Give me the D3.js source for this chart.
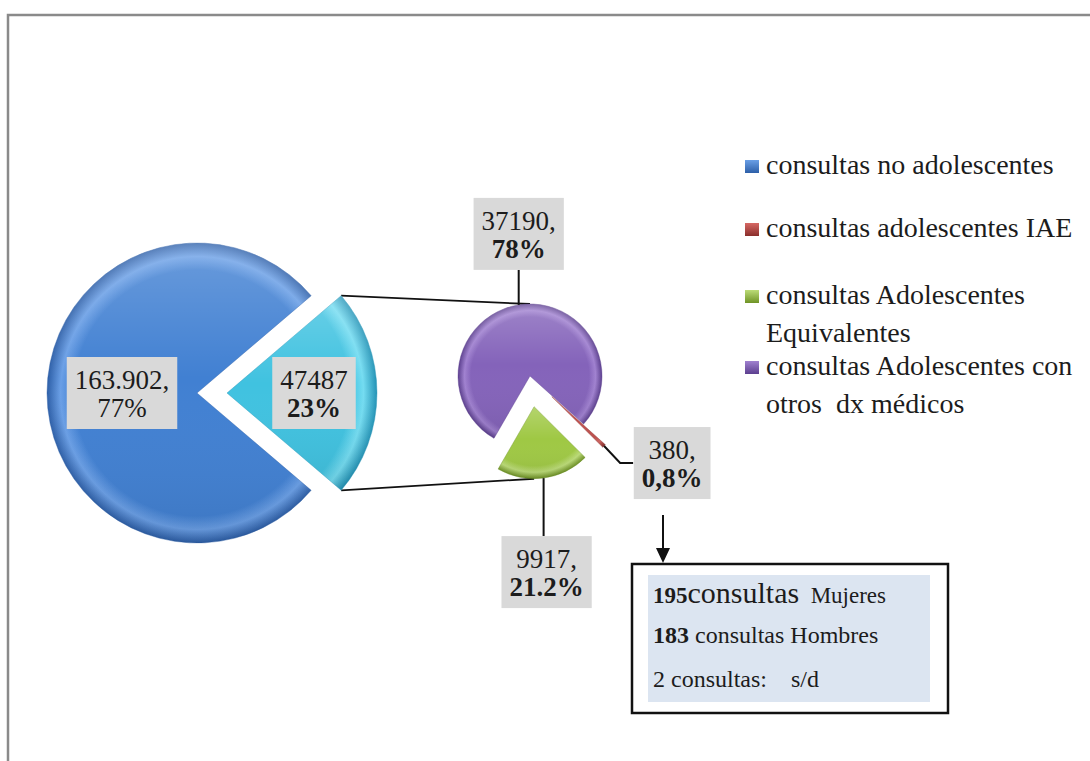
<!DOCTYPE html>
<html>
<head>
<meta charset="utf-8">
<script src="https://cdn.jsdelivr.net/npm/d3@7"></script>
<style>
  html, body { margin: 0; padding: 0; background: #fff; }
  svg { display: block; font-family: "Liberation Serif", "Times New Roman", serif; }
</style>
</head>
<body>
<div id="chart"></div>
<script>
// first pie: all consultations
const mainCategories = ['consultas no adolescentes', 'consultas adolescentes'];
const mainValues = [163902, 47487];
const mainValueLabels = ['163.902,', '47487'];
const mainPctLabels = ['77%', '23%'];

// second pie: breakdown of the adolescent slice
const subCategories = ['consultas Adolescentes con otros dx médicos', 'consultas adolescentes IAE', 'consultas Adolescentes Equivalentes'];
const subValues = [37190, 380, 9917];
const subValueLabels = ['37190,', '380,', '9917,'];
const subPctLabels = ['78%', '0,8%', '21.2%'];

const legendKeys = ['consultas no adolescentes', 'consultas adolescentes IAE', 'consultas Adolescentes Equivalentes', 'consultas Adolescentes con otros dx médicos'];
const legendLines = [
  ['consultas no adolescentes'],
  ['consultas adolescentes IAE'],
  ['consultas Adolescentes', 'Equivalentes'],
  ['consultas Adolescentes con', 'otros  dx médicos'],
];

// detail of the IAE slice
const detailLines = [
  [{ text: '195', bold: true, size: 23 }, { text: 'consultas', size: 30 }, { text: '  Mujeres', size: 23 }],
  [{ text: '183', bold: true, size: 24 }, { text: ' consultas Hombres', size: 24 }],
  [{ text: '2 consultas:    s/d', size: 24 }],
];

// light, base, dark shade per category
const palette = {
  'consultas no adolescentes': ['#6a9fe6', '#4180d2', '#2d5fa8'],
  'consultas adolescentes': ['#74dcf1', '#40c2e0', '#2393b6'],
  'consultas Adolescentes con otros dx médicos': ['#a081d0', '#8463ba', '#5c3f8f'],
  'consultas adolescentes IAE': ['#d66864', '#c0504d', '#8a2e2b'],
  'consultas Adolescentes Equivalentes': ['#bcdc78', '#9fc844', '#6f9325'],
};

const W = 1090;
const H = 761;
const FONT = 27;
const LEGEND_FONT = 28;

const main = { cx: 197, cy: 393, r: 150, explode: [0, 30], labelR: [0.5, 0.58] };
const sub = { cx: 530, cy: 376, r: 72, explode: [0, 30, 31], start: 210 * Math.PI / 180 };

const svg = d3.select('#chart').append('svg')
  .attr('width', W)
  .attr('height', H);

const defs = svg.append('defs');

// chart area frame (runs past right and bottom edges)
svg.append('rect')
  .attr('x', 8).attr('y', 15)
  .attr('width', 1200).attr('height', 900)
  .attr('fill', 'none')
  .attr('stroke', '#8a8a8a')
  .attr('stroke-width', 2.5);

const offsetPoint = (cx, cy, angle, dist) => [cx + dist * Math.sin(angle), cy - dist * Math.cos(angle)];

// layout both pies
const mainTotal = d3.sum(mainValues);
const mainSpan = 2 * Math.PI * mainValues[1] / mainTotal;
const mainStart = Math.PI / 2 + mainSpan / 2;
const mainArcs = d3.pie().sort(null)
  .startAngle(mainStart).endAngle(mainStart + 2 * Math.PI)(mainValues)
  .map((d, i) => {
    const mid = (d.startAngle + d.endAngle) / 2;
    const [vx, vy] = offsetPoint(main.cx, main.cy, mid, main.explode[i]);
    return { ...d, key: mainCategories[i], vx, vy, mid, r: main.r };
  });

const subArcs = d3.pie().sort(null)
  .startAngle(sub.start).endAngle(sub.start + 2 * Math.PI)(subValues)
  .map((d, i) => {
    const mid = (d.startAngle + d.endAngle) / 2;
    const [vx, vy] = offsetPoint(sub.cx, sub.cy, mid, sub.explode[i]);
    return { ...d, key: subCategories[i], vx, vy, mid, r: sub.r };
  });

// connectors between cyan slice and second pie
const cyan = mainArcs[1];
const green = subArcs[2];
const topA = offsetPoint(cyan.vx, cyan.vy, cyan.startAngle, cyan.r);
const botA = offsetPoint(cyan.vx, cyan.vy, cyan.endAngle, cyan.r);
const topB = [sub.cx, sub.cy - sub.r];
const botB = offsetPoint(green.vx, green.vy, Math.PI, green.r);
svg.append('g')
  .selectAll('line')
  .data([[topA, topB], [botA, botB]])
  .enter()
  .append('line')
    .attr('x1', d => d[0][0]).attr('y1', d => d[0][1])
    .attr('x2', d => d[1][0]).attr('y2', d => d[1][1])
    .attr('stroke', '#111')
    .attr('stroke-width', 1.8);

// bevel-like shading: flat in the middle, bright band then dark rim
function addGradient(id, d) {
  const c = palette[d.key];
  const grad = defs.append('radialGradient')
    .attr('id', id)
    .attr('gradientUnits', 'userSpaceOnUse')
    .attr('cx', 0).attr('cy', 0).attr('r', d.r)
    .attr('fx', 0).attr('fy', 0);
  grad.append('stop').attr('offset', '0%').attr('stop-color', c[1]);
  grad.append('stop').attr('offset', '82%').attr('stop-color', c[1]);
  grad.append('stop').attr('offset', '91%').attr('stop-color', c[0]);
  grad.append('stop').attr('offset', '100%').attr('stop-color', c[2]);
}

defs.append('linearGradient')
  .attr('id', 'sheen')
  .attr('x1', 0).attr('y1', 0).attr('x2', 0).attr('y2', 1)
  .call(g => {
    g.append('stop').attr('offset', '0%').attr('stop-color', '#fff').attr('stop-opacity', 0.22);
    g.append('stop').attr('offset', '45%').attr('stop-color', '#fff').attr('stop-opacity', 0);
    g.append('stop').attr('offset', '100%').attr('stop-color', '#000').attr('stop-opacity', 0.08);
  });

function drawPie(arcs, prefix) {
  const arc = d3.arc().innerRadius(0);
  arcs.forEach((d, i) => addGradient(`${prefix}-${i}`, d));
  const g = svg.append('g');
  const slices = g.selectAll('g')
    .data(arcs)
    .enter()
    .append('g')
      .attr('transform', d => `translate(${d.vx},${d.vy})`);
  slices.append('path')
    .attr('d', d => arc.outerRadius(d.r)(d))
    .attr('fill', (d, i) => `url(#${prefix}-${i})`)
    .attr('stroke', d => palette[d.key][2])
    .attr('stroke-width', 0.8)
    .attr('stroke-opacity', 0.5);
  slices.append('path')
    .attr('d', d => arc.outerRadius(d.r)(d))
    .attr('fill', 'url(#sheen)');
}

drawPie(mainArcs, 'g-main');
drawPie(subArcs, 'g-sub');

// gray label box with two lines of text centred on (x, y)
function drawLabel(x, y, line1, line2, boldSecond) {
  const g = svg.append('g');
  const rect = g.append('rect');
  const text = g.append('text')
    .attr('text-anchor', 'middle')
    .attr('font-size', FONT)
    .attr('fill', '#1c1c1c');
  text.append('tspan').attr('x', x).attr('y', y - 4).text(line1);
  text.append('tspan').attr('x', x).attr('y', y + 24)
    .attr('font-weight', boldSecond ? 'bold' : 'normal')
    .text(line2);
  const bb = text.node().getBBox();
  const w = bb.width + 16;
  rect.attr('x', x - w / 2).attr('y', y - 36)
    .attr('width', w).attr('height', 72)
    .attr('fill', '#d9d9d9');
}

mainArcs.forEach((d, i) => {
  const [lx, ly] = offsetPoint(d.vx, d.vy, d.mid, d.r * main.labelR[i]);
  drawLabel(lx, ly, mainValueLabels[i], mainPctLabels[i], i === 1);
});

// labels of the second pie, with leader lines
const leaderLayout = [
  { box: [0, -71], bend: null },
  { box: [68, 17], bend: [[16, 17], [29, 17]] },
  { box: [3, 94], bend: null },
];
subArcs.forEach((d, i) => {
  const p = offsetPoint(d.vx, d.vy, d.mid, d.r);
  const o = leaderLayout[i];
  const bx = p[0] + o.box[0];
  const by = p[1] + o.box[1];
  let pts;
  if (o.bend) pts = [p, ...o.bend.map(b => [p[0] + b[0], p[1] + b[1]])];
  else pts = [p, [p[0], by + (o.box[1] < 0 ? 36 : -36)]];
  svg.append('path')
    .attr('d', d3.line()(pts))
    .attr('fill', 'none')
    .attr('stroke', '#111')
    .attr('stroke-width', 2);
  drawLabel(bx, by, subValueLabels[i], subPctLabels[i], true);
});

// legend
const legendBase = [174, 237, 304, 375];
const legend = svg.append('g').attr('class', 'legend');
legendKeys.forEach((key, i) => {
  const gid = `leg-${i}`;
  const c = palette[key];
  const lg = defs.append('linearGradient').attr('id', gid)
    .attr('x1', 0).attr('y1', 0).attr('x2', 0).attr('y2', 1);
  lg.append('stop').attr('offset', '0%').attr('stop-color', c[0]);
  lg.append('stop').attr('offset', '100%').attr('stop-color', c[2]);
  legend.append('rect')
    .attr('x', 745).attr('y', legendBase[i] - 14)
    .attr('width', 14).attr('height', 13)
    .attr('fill', `url(#${gid})`);
  const t = legend.append('text')
    .attr('font-size', LEGEND_FONT)
    .attr('fill', '#1c1c1c')
    .style('white-space', 'pre');
  legendLines[i].forEach((line, j) => {
    t.append('tspan').attr('x', 766).attr('y', legendBase[i] + j * 38).text(line);
  });
});

// arrow from IAE label to detail box
const arrowX = 663;
svg.append('line')
  .attr('x1', arrowX).attr('y1', 515)
  .attr('x2', arrowX).attr('y2', 550)
  .attr('stroke', '#111').attr('stroke-width', 2);
svg.append('path')
  .attr('d', d3.line()([[arrowX - 7, 548], [arrowX + 7, 548], [arrowX, 563]]) + 'Z')
  .attr('fill', '#111');

// detail box
svg.append('rect')
  .attr('x', 632).attr('y', 564)
  .attr('width', 316).attr('height', 149)
  .attr('fill', '#fff')
  .attr('stroke', '#111').attr('stroke-width', 2.5);
svg.append('rect')
  .attr('x', 648).attr('y', 575)
  .attr('width', 282).attr('height', 127)
  .attr('fill', '#dce5f1');
const detailBase = [603, 643, 687];
detailLines.forEach((parts, i) => {
  const t = svg.append('text')
    .attr('x', 653).attr('y', detailBase[i])
    .attr('fill', '#1c1c1c')
    .style('white-space', 'pre');
  parts.forEach(p => {
    t.append('tspan')
      .attr('font-size', p.size)
      .attr('font-weight', p.bold ? 'bold' : 'normal')
      .text(p.text);
  });
});
</script>
</body>
</html>
